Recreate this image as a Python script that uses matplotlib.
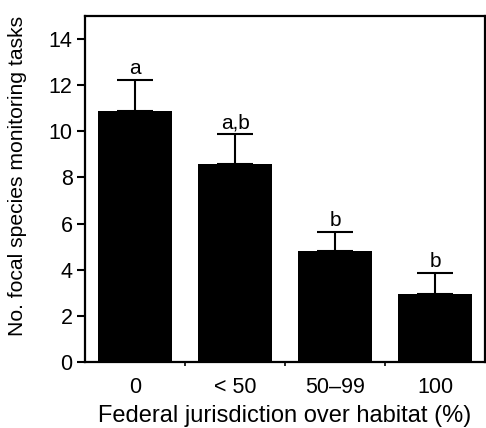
import matplotlib
matplotlib.use("Agg")
import matplotlib.pyplot as plt
from matplotlib.ticker import FixedLocator

categories = ["0", "< 50", "50\u201399", "100"]
means = [10.9, 8.6, 4.8, 2.95]
errors = [1.33, 1.27, 0.85, 0.93]
letters = ["a", "a,b", "b", "b"]
yticks = [0, 2, 4, 6, 8, 10, 12, 14]

plt.rcParams['font.family'] = ['Liberation Sans', 'DejaVu Sans']

fig = plt.figure(figsize=(4.86, 4.28), dpi=100)
ax = fig.add_axes([85/486, 1 - 362/428, 400/486, 346/428])

x = list(range(len(categories)))
ax.bar(x, means, width=0.74, color="black", edgecolor="black", linewidth=0, zorder=2)
ax.errorbar(x, means, yerr=[[0]*len(means), errors], fmt="none", ecolor="black",
            elinewidth=1.5, capsize=13.3, capthick=1.5, zorder=1)
for xi, m, e, lab in zip(x, means, errors, letters):
    ax.text(xi, m + e + 0.08, lab, ha="center", va="bottom", fontsize=15)

ax.set_xlim(-0.5, 3.5)
ax.set_ylim(0, 15)
ax.set_yticks(yticks)
ax.set_xticks(x)
ax.set_xticklabels(categories)
ax.xaxis.set_minor_locator(FixedLocator([0.5, 1.5, 2.5]))
ax.tick_params(axis="x", which="major", length=0, labelsize=15.5, pad=11)
ax.tick_params(axis="x", which="minor", length=3, width=1.2, direction="out")
ax.tick_params(axis="y", length=6, width=1.5, labelsize=15.5, pad=3)
for s in ax.spines.values():
    s.set_linewidth(1.6)

ax.set_xlabel("Federal jurisdiction over habitat (%)", fontsize=17, labelpad=5)
ax.set_ylabel("No. focal species monitoring tasks", fontsize=15.2)
ax.yaxis.set_label_coords(-0.145, 0.538)

fig.savefig("out.png", dpi=100)
